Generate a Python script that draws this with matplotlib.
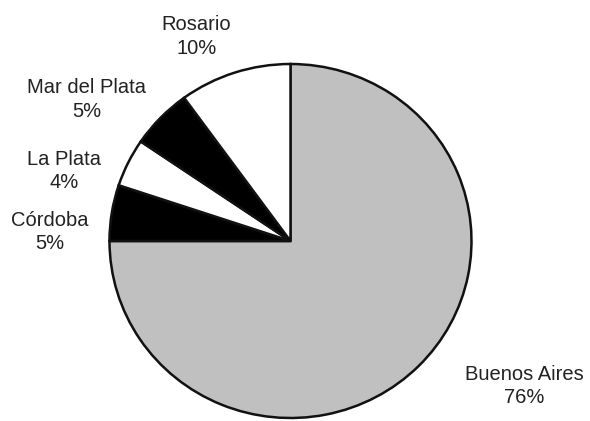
import matplotlib
matplotlib.use("Agg")
import matplotlib.pyplot as plt

cities = ["Buenos Aires", "Córdoba", "La Plata", "Mar del Plata", "Rosario"]
shares = [75.0, 5.1, 4.4, 5.5, 10.0]
pct_labels = ["76%", "5%", "4%", "5%", "10%"]
colors = ["#c0c0c0", "black", "white", "black", "white"]

# label placement (data units, pie radius = 1)
label_pos = [(1.29, -0.82), (-1.33, 0.05), (-1.25, 0.395), (-1.125, 0.80), (-0.52, 1.155)]

plt.rcParams["font.family"] = ["Liberation Sans", "DejaVu Sans"]

fig = plt.figure(figsize=(5.9, 4.21), dpi=100)
ax = fig.add_axes([0, 0, 1, 1])
ax.pie(shares, colors=colors, startangle=90, counterclock=False, radius=1,
       wedgeprops=dict(edgecolor="#111111", linewidth=1.8))

for name, pct, (x, y) in zip(cities, pct_labels, label_pos):
    ax.text(x, y, name + "\n" + pct, ha="center", va="center",
            fontsize=14.5, color="#222222", linespacing=1.3)

# slightly squashed circle, as in the reference
rx, ry = 181, 177
ax.set_xlim(-290.5 / rx, 299.5 / rx)
ax.set_ylim(-180 / ry, 241 / ry)
ax.set_aspect("auto")
ax.axis("off")

fig.savefig("out.png", dpi=100)
